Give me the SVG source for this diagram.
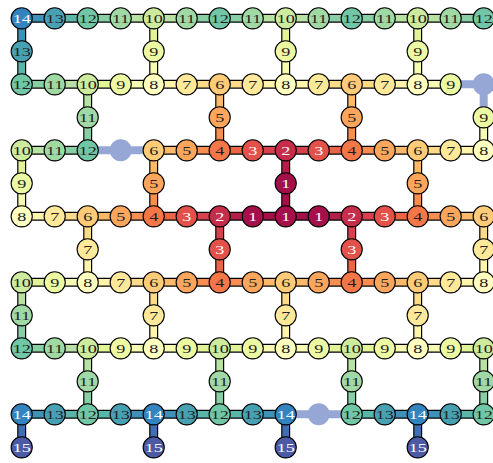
<svg xmlns="http://www.w3.org/2000/svg" width="493" height="463" viewBox="0 0 493 463">
<style>
.o{fill:none;stroke:#000;stroke-width:9}
#connectors path{fill:none}
.c path{stroke-width:6.6}
.lt{fill:none;stroke:#96a7d6;stroke-width:8}
.n circle{stroke:#000;stroke-width:1.1}
.n text{font-family:"Liberation Serif","Times New Roman",serif;font-size:12.8px;text-anchor:middle;fill:#222;transform:scale(1.42,1)}
.n text.w{fill:#fff}
.ln{fill:#96a7d6}
.f1{fill:#a3104a}.f2{fill:#c52d4b}.f3{fill:#e2524a}.f4{fill:#f57647}.f5{fill:#fca55d}.f6{fill:#fecb79}.f7{fill:#fee99a}.f8{fill:#ffffbf}.f9{fill:#edf8a3}.f10{fill:#cdeb9d}.f11{fill:#a1d9a4}.f12{fill:#70c6a5}.f13{fill:#48a1b3}.f14{fill:#3383be}.f15{fill:#4d5aa6}
.k2{stroke:#a3104a}.k3{stroke:#b41f4a}.k5{stroke:#d7414e}.k7{stroke:#ed6346}.k9{stroke:#f88e52}.k11{stroke:#fdb96a}.k13{stroke:#fedb88}.k15{stroke:#fff4ac}.k17{stroke:#f6fbb1}.k19{stroke:#e2f399}.k21{stroke:#b8e2a1}.k23{stroke:#88cfa5}.k25{stroke:#5bb6aa}.k27{stroke:#3e92b8}.k29{stroke:#406eb2}
</style>
<rect width="493" height="463" fill="#fff"/>
<g transform="translate(21.7 18.3)">
<g id="connectors">
<path class="lt" d="M429 66h33M462 66v33M66 132h66M264 396h66"/>
<path class="o" d="M0 0H462M0 66H429M0 132H66M132 132H462M0 198H462M0 264H462M0 330H462M0 396H264M330 396H462M0 0V66M0 132V198M0 264V330M0 396V429M132 0V66M132 132V198M132 264V330M132 396V429M264 0V66M264 132V198M264 264V330M264 396V429M396 0V66M396 132V198M396 264V330M396 396V429M66 66V132M66 198V264M66 330V396M198 66V132M198 198V264M198 330V396M330 66V132M330 198V264M330 330V396M462 99V132M462 198V264M462 330V396"/>
<g class="c">
<path class="k27" d="M0 0h33"/><path class="k25" d="M33 0h33"/><path class="k23" d="M66 0h33"/><path class="k21" d="M99 0h33"/><path class="k21" d="M132 0h33"/><path class="k23" d="M165 0h33"/><path class="k23" d="M198 0h33"/><path class="k21" d="M231 0h33"/><path class="k21" d="M264 0h33"/><path class="k23" d="M297 0h33"/><path class="k23" d="M330 0h33"/><path class="k21" d="M363 0h33"/><path class="k21" d="M396 0h33"/><path class="k23" d="M429 0h33"/>
<path class="k27" d="M0 0v33"/><path class="k25" d="M0 33v33"/><path class="k19" d="M132 0v33"/><path class="k17" d="M132 33v33"/><path class="k19" d="M264 0v33"/><path class="k17" d="M264 33v33"/><path class="k19" d="M396 0v33"/><path class="k17" d="M396 33v33"/>
<path class="k23" d="M0 66h33"/><path class="k21" d="M33 66h33"/><path class="k19" d="M66 66h33"/><path class="k17" d="M99 66h33"/><path class="k15" d="M132 66h33"/><path class="k13" d="M165 66h33"/><path class="k13" d="M198 66h33"/><path class="k15" d="M231 66h33"/><path class="k15" d="M264 66h33"/><path class="k13" d="M297 66h33"/><path class="k13" d="M330 66h33"/><path class="k15" d="M363 66h33"/><path class="k17" d="M396 66h33"/>
<path class="k21" d="M66 66v33"/><path class="k23" d="M66 99v33"/><path class="k11" d="M198 66v33"/><path class="k9" d="M198 99v33"/><path class="k11" d="M330 66v33"/><path class="k9" d="M330 99v33"/><path class="k17" d="M462 99v33"/>
<path class="k21" d="M0 132h33"/><path class="k23" d="M33 132h33"/><path class="k11" d="M132 132h33"/><path class="k9" d="M165 132h33"/><path class="k7" d="M198 132h33"/><path class="k5" d="M231 132h33"/><path class="k5" d="M264 132h33"/><path class="k7" d="M297 132h33"/><path class="k9" d="M330 132h33"/><path class="k11" d="M363 132h33"/><path class="k13" d="M396 132h33"/><path class="k15" d="M429 132h33"/>
<path class="k19" d="M0 132v33"/><path class="k17" d="M0 165v33"/><path class="k11" d="M132 132v33"/><path class="k9" d="M132 165v33"/><path class="k3" d="M264 132v33"/><path class="k2" d="M264 165v33"/><path class="k11" d="M396 132v33"/><path class="k9" d="M396 165v33"/>
<path class="k15" d="M0 198h33"/><path class="k13" d="M33 198h33"/><path class="k11" d="M66 198h33"/><path class="k9" d="M99 198h33"/><path class="k7" d="M132 198h33"/><path class="k5" d="M165 198h33"/><path class="k3" d="M198 198h33"/><path class="k2" d="M231 198h33"/><path class="k2" d="M264 198h33"/><path class="k3" d="M297 198h33"/><path class="k5" d="M330 198h33"/><path class="k7" d="M363 198h33"/><path class="k9" d="M396 198h33"/><path class="k11" d="M429 198h33"/>
<path class="k13" d="M66 198v33"/><path class="k15" d="M66 231v33"/><path class="k5" d="M198 198v33"/><path class="k7" d="M198 231v33"/><path class="k5" d="M330 198v33"/><path class="k7" d="M330 231v33"/><path class="k13" d="M462 198v33"/><path class="k15" d="M462 231v33"/>
<path class="k19" d="M0 264h33"/><path class="k17" d="M33 264h33"/><path class="k15" d="M66 264h33"/><path class="k13" d="M99 264h33"/><path class="k11" d="M132 264h33"/><path class="k9" d="M165 264h33"/><path class="k9" d="M198 264h33"/><path class="k11" d="M231 264h33"/><path class="k11" d="M264 264h33"/><path class="k9" d="M297 264h33"/><path class="k9" d="M330 264h33"/><path class="k11" d="M363 264h33"/><path class="k13" d="M396 264h33"/><path class="k15" d="M429 264h33"/>
<path class="k21" d="M0 264v33"/><path class="k23" d="M0 297v33"/><path class="k13" d="M132 264v33"/><path class="k15" d="M132 297v33"/><path class="k13" d="M264 264v33"/><path class="k15" d="M264 297v33"/><path class="k13" d="M396 264v33"/><path class="k15" d="M396 297v33"/>
<path class="k23" d="M0 330h33"/><path class="k21" d="M33 330h33"/><path class="k19" d="M66 330h33"/><path class="k17" d="M99 330h33"/><path class="k17" d="M132 330h33"/><path class="k19" d="M165 330h33"/><path class="k19" d="M198 330h33"/><path class="k17" d="M231 330h33"/><path class="k17" d="M264 330h33"/><path class="k19" d="M297 330h33"/><path class="k19" d="M330 330h33"/><path class="k17" d="M363 330h33"/><path class="k17" d="M396 330h33"/><path class="k19" d="M429 330h33"/>
<path class="k21" d="M66 330v33"/><path class="k23" d="M66 363v33"/><path class="k21" d="M198 330v33"/><path class="k23" d="M198 363v33"/><path class="k21" d="M330 330v33"/><path class="k23" d="M330 363v33"/><path class="k21" d="M462 330v33"/><path class="k23" d="M462 363v33"/>
<path class="k27" d="M0 396h33"/><path class="k25" d="M33 396h33"/><path class="k25" d="M66 396h33"/><path class="k27" d="M99 396h33"/><path class="k27" d="M132 396h33"/><path class="k25" d="M165 396h33"/><path class="k25" d="M198 396h33"/><path class="k27" d="M231 396h33"/><path class="k25" d="M330 396h33"/><path class="k27" d="M363 396h33"/><path class="k27" d="M396 396h33"/><path class="k25" d="M429 396h33"/>
<path class="k29" d="M0 396v33"/><path class="k29" d="M132 396v33"/><path class="k29" d="M264 396v33"/><path class="k29" d="M396 396v33"/>
</g>
</g>
<g id="nodes">
<circle id="b_2_14" class="ln" cx="462" cy="66" r="11"/>
<circle id="b_4_3" class="ln" cx="99" cy="132" r="11"/>
<circle id="b_12_9" class="ln" cx="297" cy="396" r="11"/>

<g id="n_0_0" class="n" transform="translate(0 0)"><circle class="f14" r="10.6"/><text class="w" y="4.4">14</text></g>
<g id="n_0_1" class="n" transform="translate(33 0)"><circle class="f13" r="10.6"/><text y="4.4">13</text></g>
<g id="n_0_2" class="n" transform="translate(66 0)"><circle class="f12" r="10.6"/><text y="4.4">12</text></g>
<g id="n_0_3" class="n" transform="translate(99 0)"><circle class="f11" r="10.6"/><text y="4.4">11</text></g>
<g id="n_0_4" class="n" transform="translate(132 0)"><circle class="f10" r="10.6"/><text y="4.4">10</text></g>
<g id="n_0_5" class="n" transform="translate(165 0)"><circle class="f11" r="10.6"/><text y="4.4">11</text></g>
<g id="n_0_6" class="n" transform="translate(198 0)"><circle class="f12" r="10.6"/><text y="4.4">12</text></g>
<g id="n_0_7" class="n" transform="translate(231 0)"><circle class="f11" r="10.6"/><text y="4.4">11</text></g>
<g id="n_0_8" class="n" transform="translate(264 0)"><circle class="f10" r="10.6"/><text y="4.4">10</text></g>
<g id="n_0_9" class="n" transform="translate(297 0)"><circle class="f11" r="10.6"/><text y="4.4">11</text></g>
<g id="n_0_10" class="n" transform="translate(330 0)"><circle class="f12" r="10.6"/><text y="4.4">12</text></g>
<g id="n_0_11" class="n" transform="translate(363 0)"><circle class="f11" r="10.6"/><text y="4.4">11</text></g>
<g id="n_0_12" class="n" transform="translate(396 0)"><circle class="f10" r="10.6"/><text y="4.4">10</text></g>
<g id="n_0_13" class="n" transform="translate(429 0)"><circle class="f11" r="10.6"/><text y="4.4">11</text></g>
<g id="n_0_14" class="n" transform="translate(462 0)"><circle class="f12" r="10.6"/><text y="4.4">12</text></g>

<g id="n_1_0" class="n" transform="translate(0 33)"><circle class="f13" r="10.6"/><text y="4.4">13</text></g>
<g id="n_1_4" class="n" transform="translate(132 33)"><circle class="f9" r="10.6"/><text y="4.4">9</text></g>
<g id="n_1_8" class="n" transform="translate(264 33)"><circle class="f9" r="10.6"/><text y="4.4">9</text></g>
<g id="n_1_12" class="n" transform="translate(396 33)"><circle class="f9" r="10.6"/><text y="4.4">9</text></g>

<g id="n_2_0" class="n" transform="translate(0 66)"><circle class="f12" r="10.6"/><text y="4.4">12</text></g>
<g id="n_2_1" class="n" transform="translate(33 66)"><circle class="f11" r="10.6"/><text y="4.4">11</text></g>
<g id="n_2_2" class="n" transform="translate(66 66)"><circle class="f10" r="10.6"/><text y="4.4">10</text></g>
<g id="n_2_3" class="n" transform="translate(99 66)"><circle class="f9" r="10.6"/><text y="4.4">9</text></g>
<g id="n_2_4" class="n" transform="translate(132 66)"><circle class="f8" r="10.6"/><text y="4.4">8</text></g>
<g id="n_2_5" class="n" transform="translate(165 66)"><circle class="f7" r="10.6"/><text y="4.4">7</text></g>
<g id="n_2_6" class="n" transform="translate(198 66)"><circle class="f6" r="10.6"/><text y="4.4">6</text></g>
<g id="n_2_7" class="n" transform="translate(231 66)"><circle class="f7" r="10.6"/><text y="4.4">7</text></g>
<g id="n_2_8" class="n" transform="translate(264 66)"><circle class="f8" r="10.6"/><text y="4.4">8</text></g>
<g id="n_2_9" class="n" transform="translate(297 66)"><circle class="f7" r="10.6"/><text y="4.4">7</text></g>
<g id="n_2_10" class="n" transform="translate(330 66)"><circle class="f6" r="10.6"/><text y="4.4">6</text></g>
<g id="n_2_11" class="n" transform="translate(363 66)"><circle class="f7" r="10.6"/><text y="4.4">7</text></g>
<g id="n_2_12" class="n" transform="translate(396 66)"><circle class="f8" r="10.6"/><text y="4.4">8</text></g>
<g id="n_2_13" class="n" transform="translate(429 66)"><circle class="f9" r="10.6"/><text y="4.4">9</text></g>

<g id="n_3_2" class="n" transform="translate(66 99)"><circle class="f11" r="10.6"/><text y="4.4">11</text></g>
<g id="n_3_6" class="n" transform="translate(198 99)"><circle class="f5" r="10.6"/><text y="4.4">5</text></g>
<g id="n_3_10" class="n" transform="translate(330 99)"><circle class="f5" r="10.6"/><text y="4.4">5</text></g>
<g id="n_3_14" class="n" transform="translate(462 99)"><circle class="f9" r="10.6"/><text y="4.4">9</text></g>

<g id="n_4_0" class="n" transform="translate(0 132)"><circle class="f10" r="10.6"/><text y="4.4">10</text></g>
<g id="n_4_1" class="n" transform="translate(33 132)"><circle class="f11" r="10.6"/><text y="4.4">11</text></g>
<g id="n_4_2" class="n" transform="translate(66 132)"><circle class="f12" r="10.6"/><text y="4.4">12</text></g>
<g id="n_4_4" class="n" transform="translate(132 132)"><circle class="f6" r="10.6"/><text y="4.4">6</text></g>
<g id="n_4_5" class="n" transform="translate(165 132)"><circle class="f5" r="10.6"/><text y="4.4">5</text></g>
<g id="n_4_6" class="n" transform="translate(198 132)"><circle class="f4" r="10.6"/><text y="4.4">4</text></g>
<g id="n_4_7" class="n" transform="translate(231 132)"><circle class="f3" r="10.6"/><text class="w" y="4.4">3</text></g>
<g id="n_4_8" class="n" transform="translate(264 132)"><circle class="f2" r="10.6"/><text class="w" y="4.4">2</text></g>
<g id="n_4_9" class="n" transform="translate(297 132)"><circle class="f3" r="10.6"/><text class="w" y="4.4">3</text></g>
<g id="n_4_10" class="n" transform="translate(330 132)"><circle class="f4" r="10.6"/><text y="4.4">4</text></g>
<g id="n_4_11" class="n" transform="translate(363 132)"><circle class="f5" r="10.6"/><text y="4.4">5</text></g>
<g id="n_4_12" class="n" transform="translate(396 132)"><circle class="f6" r="10.6"/><text y="4.4">6</text></g>
<g id="n_4_13" class="n" transform="translate(429 132)"><circle class="f7" r="10.6"/><text y="4.4">7</text></g>
<g id="n_4_14" class="n" transform="translate(462 132)"><circle class="f8" r="10.6"/><text y="4.4">8</text></g>

<g id="n_5_0" class="n" transform="translate(0 165)"><circle class="f9" r="10.6"/><text y="4.4">9</text></g>
<g id="n_5_4" class="n" transform="translate(132 165)"><circle class="f5" r="10.6"/><text y="4.4">5</text></g>
<g id="n_5_8" class="n" transform="translate(264 165)"><circle class="f1" r="10.6"/><text class="w" y="4.4">1</text></g>
<g id="n_5_12" class="n" transform="translate(396 165)"><circle class="f5" r="10.6"/><text y="4.4">5</text></g>

<g id="n_6_0" class="n" transform="translate(0 198)"><circle class="f8" r="10.6"/><text y="4.4">8</text></g>
<g id="n_6_1" class="n" transform="translate(33 198)"><circle class="f7" r="10.6"/><text y="4.4">7</text></g>
<g id="n_6_2" class="n" transform="translate(66 198)"><circle class="f6" r="10.6"/><text y="4.4">6</text></g>
<g id="n_6_3" class="n" transform="translate(99 198)"><circle class="f5" r="10.6"/><text y="4.4">5</text></g>
<g id="n_6_4" class="n" transform="translate(132 198)"><circle class="f4" r="10.6"/><text y="4.4">4</text></g>
<g id="n_6_5" class="n" transform="translate(165 198)"><circle class="f3" r="10.6"/><text class="w" y="4.4">3</text></g>
<g id="n_6_6" class="n" transform="translate(198 198)"><circle class="f2" r="10.6"/><text class="w" y="4.4">2</text></g>
<g id="n_6_7" class="n" transform="translate(231 198)"><circle class="f1" r="10.6"/><text class="w" y="4.4">1</text></g>
<g id="n_6_8" class="n" transform="translate(264 198)"><circle class="f1" r="10.6"/><text class="w" y="4.4">1</text></g>
<g id="n_6_9" class="n" transform="translate(297 198)"><circle class="f1" r="10.6"/><text class="w" y="4.4">1</text></g>
<g id="n_6_10" class="n" transform="translate(330 198)"><circle class="f2" r="10.6"/><text class="w" y="4.4">2</text></g>
<g id="n_6_11" class="n" transform="translate(363 198)"><circle class="f3" r="10.6"/><text class="w" y="4.4">3</text></g>
<g id="n_6_12" class="n" transform="translate(396 198)"><circle class="f4" r="10.6"/><text y="4.4">4</text></g>
<g id="n_6_13" class="n" transform="translate(429 198)"><circle class="f5" r="10.6"/><text y="4.4">5</text></g>
<g id="n_6_14" class="n" transform="translate(462 198)"><circle class="f6" r="10.6"/><text y="4.4">6</text></g>

<g id="n_7_2" class="n" transform="translate(66 231)"><circle class="f7" r="10.6"/><text y="4.4">7</text></g>
<g id="n_7_6" class="n" transform="translate(198 231)"><circle class="f3" r="10.6"/><text class="w" y="4.4">3</text></g>
<g id="n_7_10" class="n" transform="translate(330 231)"><circle class="f3" r="10.6"/><text class="w" y="4.4">3</text></g>
<g id="n_7_14" class="n" transform="translate(462 231)"><circle class="f7" r="10.6"/><text y="4.4">7</text></g>

<g id="n_8_0" class="n" transform="translate(0 264)"><circle class="f10" r="10.6"/><text y="4.4">10</text></g>
<g id="n_8_1" class="n" transform="translate(33 264)"><circle class="f9" r="10.6"/><text y="4.4">9</text></g>
<g id="n_8_2" class="n" transform="translate(66 264)"><circle class="f8" r="10.6"/><text y="4.4">8</text></g>
<g id="n_8_3" class="n" transform="translate(99 264)"><circle class="f7" r="10.6"/><text y="4.4">7</text></g>
<g id="n_8_4" class="n" transform="translate(132 264)"><circle class="f6" r="10.6"/><text y="4.4">6</text></g>
<g id="n_8_5" class="n" transform="translate(165 264)"><circle class="f5" r="10.6"/><text y="4.4">5</text></g>
<g id="n_8_6" class="n" transform="translate(198 264)"><circle class="f4" r="10.6"/><text y="4.4">4</text></g>
<g id="n_8_7" class="n" transform="translate(231 264)"><circle class="f5" r="10.6"/><text y="4.4">5</text></g>
<g id="n_8_8" class="n" transform="translate(264 264)"><circle class="f6" r="10.6"/><text y="4.4">6</text></g>
<g id="n_8_9" class="n" transform="translate(297 264)"><circle class="f5" r="10.6"/><text y="4.4">5</text></g>
<g id="n_8_10" class="n" transform="translate(330 264)"><circle class="f4" r="10.6"/><text y="4.4">4</text></g>
<g id="n_8_11" class="n" transform="translate(363 264)"><circle class="f5" r="10.6"/><text y="4.4">5</text></g>
<g id="n_8_12" class="n" transform="translate(396 264)"><circle class="f6" r="10.6"/><text y="4.4">6</text></g>
<g id="n_8_13" class="n" transform="translate(429 264)"><circle class="f7" r="10.6"/><text y="4.4">7</text></g>
<g id="n_8_14" class="n" transform="translate(462 264)"><circle class="f8" r="10.6"/><text y="4.4">8</text></g>

<g id="n_9_0" class="n" transform="translate(0 297)"><circle class="f11" r="10.6"/><text y="4.4">11</text></g>
<g id="n_9_4" class="n" transform="translate(132 297)"><circle class="f7" r="10.6"/><text y="4.4">7</text></g>
<g id="n_9_8" class="n" transform="translate(264 297)"><circle class="f7" r="10.6"/><text y="4.4">7</text></g>
<g id="n_9_12" class="n" transform="translate(396 297)"><circle class="f7" r="10.6"/><text y="4.4">7</text></g>

<g id="n_10_0" class="n" transform="translate(0 330)"><circle class="f12" r="10.6"/><text y="4.4">12</text></g>
<g id="n_10_1" class="n" transform="translate(33 330)"><circle class="f11" r="10.6"/><text y="4.4">11</text></g>
<g id="n_10_2" class="n" transform="translate(66 330)"><circle class="f10" r="10.6"/><text y="4.4">10</text></g>
<g id="n_10_3" class="n" transform="translate(99 330)"><circle class="f9" r="10.6"/><text y="4.4">9</text></g>
<g id="n_10_4" class="n" transform="translate(132 330)"><circle class="f8" r="10.6"/><text y="4.4">8</text></g>
<g id="n_10_5" class="n" transform="translate(165 330)"><circle class="f9" r="10.6"/><text y="4.4">9</text></g>
<g id="n_10_6" class="n" transform="translate(198 330)"><circle class="f10" r="10.6"/><text y="4.4">10</text></g>
<g id="n_10_7" class="n" transform="translate(231 330)"><circle class="f9" r="10.6"/><text y="4.4">9</text></g>
<g id="n_10_8" class="n" transform="translate(264 330)"><circle class="f8" r="10.6"/><text y="4.4">8</text></g>
<g id="n_10_9" class="n" transform="translate(297 330)"><circle class="f9" r="10.6"/><text y="4.4">9</text></g>
<g id="n_10_10" class="n" transform="translate(330 330)"><circle class="f10" r="10.6"/><text y="4.4">10</text></g>
<g id="n_10_11" class="n" transform="translate(363 330)"><circle class="f9" r="10.6"/><text y="4.4">9</text></g>
<g id="n_10_12" class="n" transform="translate(396 330)"><circle class="f8" r="10.6"/><text y="4.4">8</text></g>
<g id="n_10_13" class="n" transform="translate(429 330)"><circle class="f9" r="10.6"/><text y="4.4">9</text></g>
<g id="n_10_14" class="n" transform="translate(462 330)"><circle class="f10" r="10.6"/><text y="4.4">10</text></g>

<g id="n_11_2" class="n" transform="translate(66 363)"><circle class="f11" r="10.6"/><text y="4.4">11</text></g>
<g id="n_11_6" class="n" transform="translate(198 363)"><circle class="f11" r="10.6"/><text y="4.4">11</text></g>
<g id="n_11_10" class="n" transform="translate(330 363)"><circle class="f11" r="10.6"/><text y="4.4">11</text></g>
<g id="n_11_14" class="n" transform="translate(462 363)"><circle class="f11" r="10.6"/><text y="4.4">11</text></g>

<g id="n_12_0" class="n" transform="translate(0 396)"><circle class="f14" r="10.6"/><text class="w" y="4.4">14</text></g>
<g id="n_12_1" class="n" transform="translate(33 396)"><circle class="f13" r="10.6"/><text y="4.4">13</text></g>
<g id="n_12_2" class="n" transform="translate(66 396)"><circle class="f12" r="10.6"/><text y="4.4">12</text></g>
<g id="n_12_3" class="n" transform="translate(99 396)"><circle class="f13" r="10.6"/><text y="4.4">13</text></g>
<g id="n_12_4" class="n" transform="translate(132 396)"><circle class="f14" r="10.6"/><text class="w" y="4.4">14</text></g>
<g id="n_12_5" class="n" transform="translate(165 396)"><circle class="f13" r="10.6"/><text y="4.4">13</text></g>
<g id="n_12_6" class="n" transform="translate(198 396)"><circle class="f12" r="10.6"/><text y="4.4">12</text></g>
<g id="n_12_7" class="n" transform="translate(231 396)"><circle class="f13" r="10.6"/><text y="4.4">13</text></g>
<g id="n_12_8" class="n" transform="translate(264 396)"><circle class="f14" r="10.6"/><text class="w" y="4.4">14</text></g>
<g id="n_12_10" class="n" transform="translate(330 396)"><circle class="f12" r="10.6"/><text y="4.4">12</text></g>
<g id="n_12_11" class="n" transform="translate(363 396)"><circle class="f13" r="10.6"/><text y="4.4">13</text></g>
<g id="n_12_12" class="n" transform="translate(396 396)"><circle class="f14" r="10.6"/><text class="w" y="4.4">14</text></g>
<g id="n_12_13" class="n" transform="translate(429 396)"><circle class="f13" r="10.6"/><text y="4.4">13</text></g>
<g id="n_12_14" class="n" transform="translate(462 396)"><circle class="f12" r="10.6"/><text y="4.4">12</text></g>

<g id="n_13_0" class="n" transform="translate(0 429)"><circle class="f15" r="10.6"/><text class="w" y="4.4">15</text></g>
<g id="n_13_4" class="n" transform="translate(132 429)"><circle class="f15" r="10.6"/><text class="w" y="4.4">15</text></g>
<g id="n_13_8" class="n" transform="translate(264 429)"><circle class="f15" r="10.6"/><text class="w" y="4.4">15</text></g>
<g id="n_13_12" class="n" transform="translate(396 429)"><circle class="f15" r="10.6"/><text class="w" y="4.4">15</text></g>
</g>
</g>
</svg>
